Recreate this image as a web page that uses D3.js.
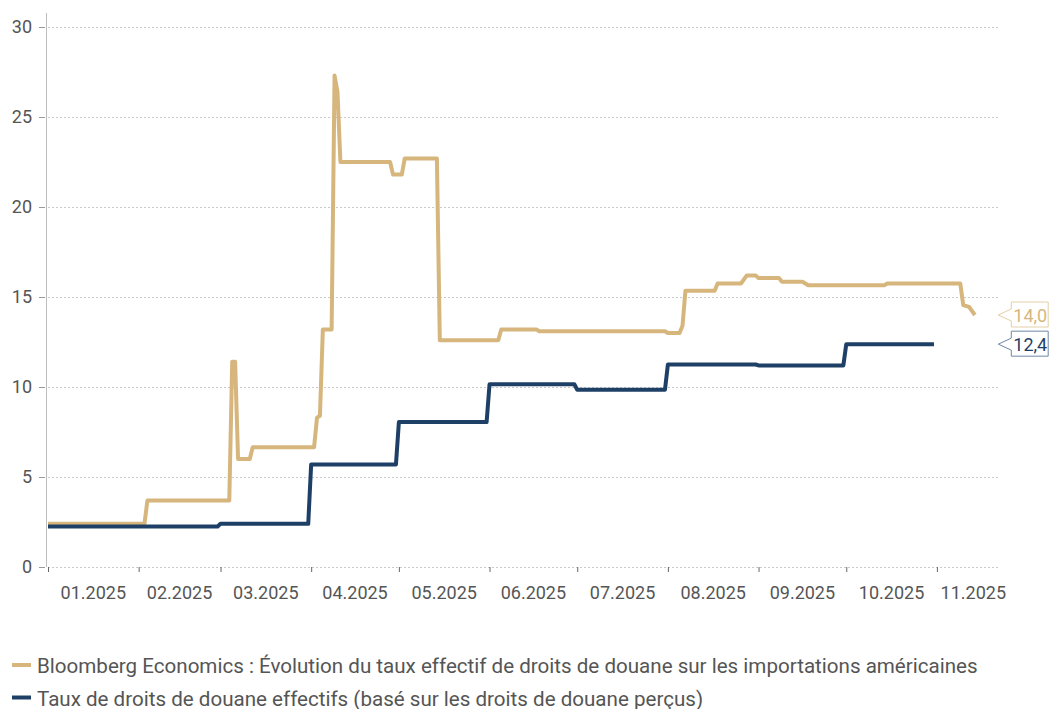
<!DOCTYPE html>
<html>
<head>
<meta charset="utf-8">
<script src="https://cdn.jsdelivr.net/npm/d3@7"></script>
<style>
  body { margin: 0; background: #fff; }
  svg { display: block; font-family: Roboto, "Noto Sans", sans-serif; }
</style>
</head>
<body>
<div id="chart"></div>
<script>
// Bloomberg Economics series (daily breakpoints)
const bloombergDates = ["2025-01-01","2025-02-03","2025-02-04","2025-03-04","2025-03-05","2025-03-06","2025-03-07","2025-03-11","2025-03-12","2025-04-02","2025-04-03","2025-04-04","2025-04-05","2025-04-08","2025-04-09","2025-04-10","2025-04-11","2025-04-28","2025-04-29","2025-05-02","2025-05-03","2025-05-14","2025-05-15","2025-06-04","2025-06-05","2025-06-17","2025-06-18","2025-07-31","2025-08-01","2025-08-05","2025-08-06","2025-08-07","2025-08-17","2025-08-18","2025-08-26","2025-08-28","2025-08-31","2025-09-01","2025-09-08","2025-09-09","2025-09-16","2025-09-18","2025-10-14","2025-10-15","2025-11-09","2025-11-10","2025-11-12","2025-11-14"];
const bloombergValues = [2.4,2.4,3.7,3.7,11.4,11.4,6.0,6.0,6.65,6.65,8.3,8.4,13.2,13.2,27.3,26.4,22.5,22.5,21.8,21.8,22.7,22.7,12.6,12.6,13.2,13.2,13.1,13.1,13.0,13.0,13.4,15.35,15.35,15.75,15.75,16.2,16.2,16.05,16.05,15.85,15.85,15.65,15.65,15.75,15.75,14.55,14.45,14.0];

// customs duties collected series (monthly steps)
const customsDates = ["2025-01-01","2025-02-28","2025-03-01","2025-03-31","2025-04-01","2025-04-30","2025-05-01","2025-05-31","2025-06-01","2025-06-30","2025-07-01","2025-07-31","2025-08-01","2025-08-31","2025-09-01","2025-09-30","2025-10-01","2025-10-31"];
const customsValues = [2.25,2.25,2.4,2.4,5.7,5.7,8.05,8.05,10.15,10.15,9.85,9.85,11.25,11.25,11.2,11.2,12.38,12.38];

const yTickValues = [0, 5, 10, 15, 20, 25, 30];
const monthLabels = ["01.2025","02.2025","03.2025","04.2025","05.2025","06.2025","07.2025","08.2025","09.2025","10.2025","11.2025"];
const seriesNames = [
  "Bloomberg Economics : Évolution du taux effectif de droits de douane sur les importations américaines",
  "Taux de droits de douane effectifs (basé sur les droits de douane perçus)"
];

const props = {
  colors: ["#d6b67d", "#1e4067"],
  boxStroke: ["#e3cfa6", "#7088a6"],
  textColor: "#555",
  gridColor: "#c9c9c9",
  xStart: "2025-01-01",
  xEnd: "2025-11-22"
};

const width = 1051;
const height = 709;
const margins = { top: 27, right: 52.7, bottom: 142, left: 48 };
const innerWidth = width - margins.left - margins.right;
const innerHeight = height - margins.top - margins.bottom;

const parseDate = d3.utcParse("%Y-%m-%d");
const fmt = v => d3.format(".1f")(v).replace(".", ",");

const series = [
  { name: seriesNames[0], values: bloombergDates.map((d, i) => ({ date: parseDate(d), value: bloombergValues[i] })) },
  { name: seriesNames[1], values: customsDates.map((d, i) => ({ date: parseDate(d), value: customsValues[i] })) }
];

const xStart = parseDate(props.xStart);
const xEnd = parseDate(props.xEnd);

const xScale = d3.scaleUtc()
  .domain([xStart, xEnd])
  .range([margins.left, margins.left + innerWidth]);

const yScale = d3.scaleLinear()
  .domain([0, 30])
  .range([margins.top + innerHeight, margins.top]);

const svg = d3.select("#chart")
  .append("svg")
  .attr("width", width)
  .attr("height", height);

// dotted gridlines
const grid = svg.append("g")
  .attr("class", "grid")
  .attr("transform", `translate(${margins.left},0)`)
  .call(d3.axisLeft(yScale).tickValues(yTickValues).tickSize(-innerWidth).tickFormat(""));
grid.select(".domain").remove();
grid.selectAll("line")
  .attr("stroke", props.gridColor)
  .attr("stroke-dasharray", "2,2");

// y axis line + ticks + labels
svg.append("line")
  .attr("x1", 46.5).attr("x2", 46.5)
  .attr("y1", 13).attr("y2", yScale(0))
  .attr("stroke", "#bdbdbd");

const yAxis = svg.append("g")
  .attr("class", "y axis")
  .attr("transform", "translate(45,0)")
  .call(d3.axisLeft(yScale).tickValues(yTickValues).tickSize(6).tickPadding(7));
yAxis.select(".domain").remove();
yAxis.selectAll("line").attr("stroke", "#9a9a9a");
yAxis.selectAll("text")
  .attr("fill", props.textColor)
  .style("font-size", "18px")
  .style("font-family", "Roboto, sans-serif");

// x axis: month ticks, labels centred in each month
const months = d3.utcMonth.range(xStart, xEnd);
const xAxis = svg.append("g")
  .attr("class", "x axis")
  .attr("transform", `translate(0,${yScale(0)})`)
  .call(d3.axisBottom(xScale).tickValues(months).tickSize(5).tickFormat(""));
xAxis.select(".domain").remove();
xAxis.selectAll("line").attr("stroke", "#666");

svg.append("g")
  .attr("class", "x labels")
  .selectAll("text")
  .data(months)
  .join("text")
  .attr("x", (d, i) => {
    const mid = (xScale(d) + xScale(d3.utcMonth.offset(d, 1))) / 2;
    return Math.max(margins.left + 42, Math.min(mid, xScale(xEnd) - 25));
  })
  .attr("y", 599)
  .attr("text-anchor", "middle")
  .attr("fill", props.textColor)
  .style("font-size", "18px")
  .text((d, i) => monthLabels[i]);

// lines
const line = d3.line()
  .x(d => xScale(d.date))
  .y(d => yScale(d.value));

svg.append("g")
  .attr("class", "lines")
  .selectAll("path")
  .data(series)
  .join("path")
  .attr("d", d => line(d.values))
  .attr("fill", "none")
  .attr("stroke", (d, i) => props.colors[i])
  .attr("stroke-width", 4)
  .attr("stroke-linejoin", "round");

// end value callouts
const tipX = xScale(xEnd);
const callouts = svg.append("g").attr("class", "callouts")
  .selectAll("g")
  .data(series)
  .join("g");

callouts.each(function (d, i) {
  const last = d.values[d.values.length - 1];
  const ty = yScale(last.value);
  const bx = tipX + 13;
  const g = d3.select(this);
  const label = g.append("text")
    .attr("x", bx + 2)
    .attr("y", ty + 7)
    .attr("fill", props.colors[i])
    .style("font-size", "18px")
    .text(fmt(last.value));
  const w = Math.min(label.node().getComputedTextLength() + 3, width - 1 - bx);
  const top = ty - 13, bottom = ty + 12;
  g.insert("path", "text")
    .attr("d", `M${tipX},${ty} L${bx},${ty - 6} L${bx},${top} L${bx + w},${top} L${bx + w},${bottom} L${bx},${bottom} L${bx},${ty + 6} Z`)
    .attr("fill", "#fff")
    .attr("stroke", props.boxStroke[i])
    .attr("stroke-width", 1);
});

// legend
const legend = svg.append("g").attr("class", "legend");
const legendRows = legend.selectAll("g")
  .data(seriesNames)
  .join("g")
  .attr("transform", (d, i) => `translate(0,${665 + i * 32.5})`);

legendRows.append("line")
  .attr("x1", 12).attr("x2", 31)
  .attr("stroke", (d, i) => props.colors[i])
  .attr("stroke-width", 4);

const legendText = legendRows.append("text")
  .attr("x", 37)
  .attr("y", 8)
  .attr("fill", props.textColor)
  .style("font-size", "20px")
  .text(d => d);

// fit the legend font so the first line spans the same width as the original
const len0 = legendText.nodes()[0].getComputedTextLength();
const fitted = Math.max(17, Math.min(21, 20 * 941 / len0));
legendText.style("font-size", `${fitted}px`);
</script>
</body>
</html>
